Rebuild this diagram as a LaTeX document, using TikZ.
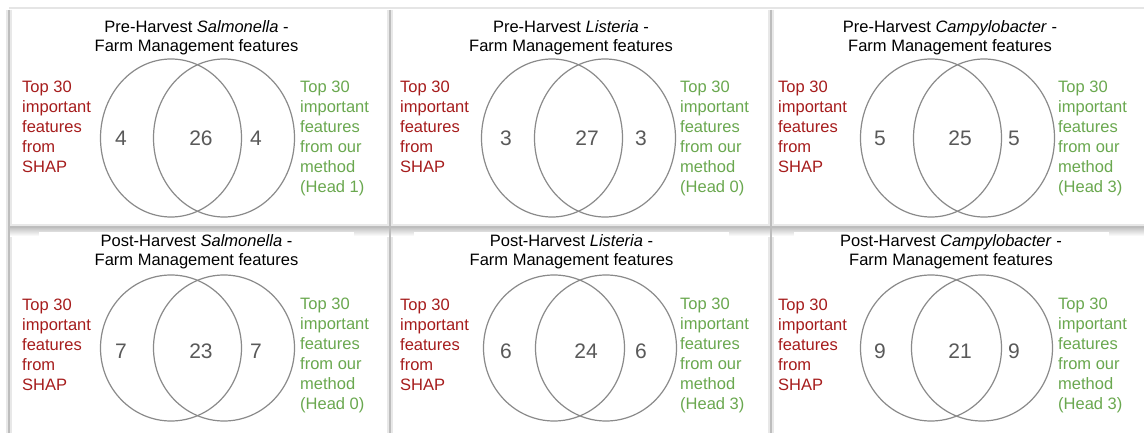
\documentclass[tikz,border=0pt]{standalone}
\usepackage{fontspec}
\setmainfont{Liberation Sans}
\usepackage{xcolor}
\usepackage{tikz}
\usetikzlibrary{shapes.geometric}

\definecolor{shapred}{RGB}{166,28,28}
\definecolor{ourgreen}{RGB}{106,168,79}
\definecolor{numgray}{RGB}{89,89,89}
\definecolor{ringgray}{RGB}{138,138,138}

\tikzset{
	title/.style={inner sep=0pt,align=center,font=\fontsize{16.5}{19.5}\selectfont},
	shaptext/.style={anchor=west,inner sep=0pt,align=left,text=shapred,font=\fontsize{16.5}{20}\selectfont},
	ourtext/.style={anchor=west,inner sep=0pt,align=left,text=ourgreen,font=\fontsize{16.5}{20}\selectfont},
	ring/.style={ellipse,draw=ringgray,line width=1.2pt,inner sep=0pt,minimum width=141pt},
	count/.style={inner sep=0pt,text=numgray,font=\fontsize{21}{24}\selectfont},
	frameline/.style={line width=2.5pt,draw=black!26},
	frameglow/.style={line width=6pt,draw=black!9}
}

\newcommand{\shaplines}{Top 30\\important\\features\\from\\SHAP}
\newcommand{\ourlines}[1]{Top 30\\important\\features\\from our\\method\\(Head #1)}

\begin{document}
\begin{tikzpicture}[x=1pt,y=-1pt]
	\useasboundingbox[fill=white] (0,0) rectangle (1144,433);
	
	% panel frames and their shadows
	\draw[black!10,line width=2pt] (9,8) -- (1144,8);
	\draw[frameglow] (9,10) -- (9,433);
	\draw[frameglow] (390,10) -- (390,433);
	\draw[frameglow] (771,10) -- (771,433);
	\draw[frameglow] (9,227) -- (1144,227);
	\fill[top color=black!22,bottom color=white] (10,228) rectangle (1144,236);
	\draw[frameline] (9,10) -- (9,433);
	\draw[frameline] (390,10) -- (390,433);
	\draw[frameline] (771,10) -- (771,433);
	\draw[frameline] (9,227) -- (1144,227);
	
	% pre-harvest, Salmonella
	\node[title] (preS-title) at (196.5,37.5) {Pre-Harvest \textit{Salmonella} -\\Farm Management features};
	\node[ring,minimum height=158pt] (preS-shap) at (171,138) {};
	\node[ring,minimum height=158pt] (preS-our) at (224,138) {};
	\node[shaptext] (preS-left) at (22,127) {\shaplines};
	\node[ourtext] (preS-right) at (300,138) {\ourlines{1}};
	\node[count] (preS-a) at (121,138) {4};
	\node[count] (preS-b) at (201,138) {26};
	\node[count] (preS-c) at (256,138) {4};
	
	% pre-harvest, Listeria
	\node[title] (preL-title) at (571,37.5) {Pre-Harvest \textit{Listeria} -\\Farm Management features};
	\node[ring,minimum height=158pt] (preL-shap) at (552,138) {};
	\node[ring,minimum height=158pt] (preL-our) at (605,138) {};
	\node[shaptext] (preL-left) at (400,127) {\shaplines};
	\node[ourtext] (preL-right) at (680,138) {\ourlines{0}};
	\node[count] (preL-a) at (506,138) {3};
	\node[count] (preL-b) at (587,138) {27};
	\node[count] (preL-c) at (641,138) {3};
	
	% pre-harvest, Campylobacter
	\node[title] (preC-title) at (950,37.5) {Pre-Harvest \textit{Campylobacter} -\\Farm Management features};
	\node[ring,minimum height=158pt] (preC-shap) at (931,138) {};
	\node[ring,minimum height=158pt] (preC-our) at (984,138) {};
	\node[shaptext] (preC-left) at (778,127) {\shaplines};
	\node[ourtext] (preC-right) at (1058,138) {\ourlines{3}};
	\node[count] (preC-a) at (880,138) {5};
	\node[count] (preC-b) at (960,138) {25};
	\node[count] (preC-c) at (1014,138) {5};
	
	% post-harvest, Salmonella
	\node[title,fill=white,minimum width=315pt,minimum height=40pt] (postS-title) at (196.5,251.5) {Post-Harvest \textit{Salmonella} -\\Farm Management features};
	\node[ring,minimum height=146pt] (postS-shap) at (171,348) {};
	\node[ring,minimum height=146pt] (postS-our) at (224,348) {};
	\node[shaptext] (postS-left) at (22,344.5) {\shaplines};
	\node[ourtext] (postS-right) at (300,355.5) {\ourlines{0}};
	\node[count] (postS-a) at (121,351) {7};
	\node[count] (postS-b) at (201,351) {23};
	\node[count] (postS-c) at (256,351) {7};
	
	% post-harvest, Listeria
	\node[title,fill=white,minimum width=315pt,minimum height=40pt] (postL-title) at (571.5,251.5) {Post-Harvest \textit{Listeria} -\\Farm Management features};
	\node[ring,minimum height=146pt] (postL-shap) at (554,348) {};
	\node[ring,minimum height=146pt] (postL-our) at (606,348) {};
	\node[shaptext] (postL-left) at (400,344.5) {\shaplines};
	\node[ourtext] (postL-right) at (680,355.5) {\ourlines{3}};
	\node[count] (postL-a) at (506,351) {6};
	\node[count] (postL-b) at (586,351) {24};
	\node[count] (postL-c) at (641,351) {6};
	
	% post-harvest, Campylobacter
	\node[title,fill=white,minimum width=315pt,minimum height=40pt] (postC-title) at (951,251.5) {Post-Harvest \textit{Campylobacter} -\\Farm Management features};
	\node[ring,minimum height=146pt] (postC-shap) at (931,348) {};
	\node[ring,minimum height=146pt] (postC-our) at (982,348) {};
	\node[shaptext] (postC-left) at (778,344.5) {\shaplines};
	\node[ourtext] (postC-right) at (1058,355.5) {\ourlines{3}};
	\node[count] (postC-a) at (880,351) {9};
	\node[count] (postC-b) at (960,351) {21};
	\node[count] (postC-c) at (1014,351) {9};
\end{tikzpicture}
\end{document}
